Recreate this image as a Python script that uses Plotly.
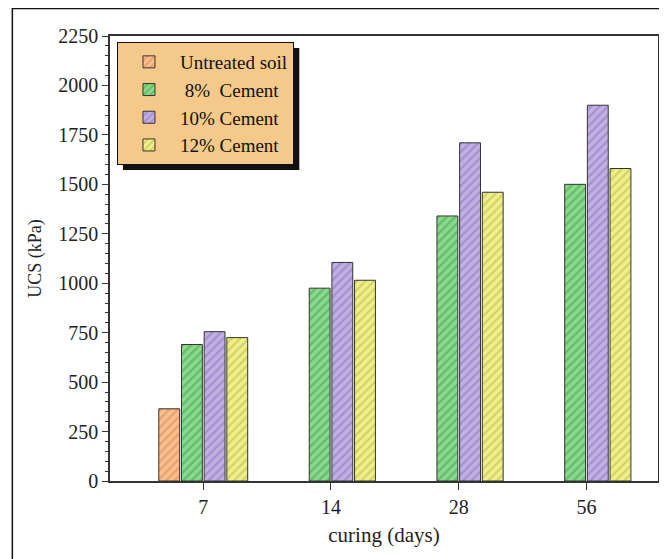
import plotly.graph_objects as go

categories = ["7", "14", "28", "56"]
untreated_x = ["7"]
untreated = [365]
cement8 = [690, 975, 1340, 1500]
cement10 = [755, 1105, 1710, 1900]
cement12 = [725, 1015, 1460, 1580]
series_names = ["Untreated soil", " 8%  Cement", "10% Cement", "12% Cement"]
y_ticks = [0, 250, 500, 750, 1000, 1250, 1500, 1750, 2000, 2250]

bg_cols = ["#F8C08E", "#8BD98B", "#C2B0E4", "#F0F08A"]
fg_cols = ["#D9864E", "#3E9E52", "#8A72BC", "#B8B840"]

FONT = "Liberation Serif"

fig = go.Figure()
data = [(untreated_x, untreated), (categories, cement8), (categories, cement10), (categories, cement12)]
for (xs, ys), name, bg, fg in zip(data, series_names, bg_cols, fg_cols):
    fig.add_trace(go.Bar(
        x=xs, y=ys, name=name,
        marker=dict(color=bg, line=dict(color="#333333", width=1),
                    pattern=dict(shape="/", fgcolor=fg, bgcolor=bg, size=6, solidity=0.4)),
    ))

# page body has an 8px margin: figure pixel = screen pixel - 8
OFF = 8
W, H = 667 - OFF, 559 - OFF
L, R, T, B = 110 - OFF, 7, 36 - OFF, 78
pw, ph = W - L - R, H - T - B

def px(x):  # screen x -> paper
    return (x - OFF - L) / pw

def py(y):  # screen y -> paper
    return (H - B - (y - OFF)) / ph

fig.update_layout(
    width=W, height=H,
    margin=dict(l=L, r=R, t=T, b=B),
    paper_bgcolor="white", plot_bgcolor="white",
    barmode="group", bargap=0.29, bargroupgap=0.08,
    font=dict(family=FONT, size=19, color="#222"),
    showlegend=True,
    legend=dict(x=px(117), y=py(42), xanchor="left", yanchor="top",
                bgcolor="#F5C98A", bordercolor="#111", borderwidth=1,
                font=dict(family=FONT, size=19, color="#111"),
                itemwidth=52, tracegroupgap=0, traceorder="normal"),
    xaxis=dict(type="category", categoryorder="array", categoryarray=categories,
               range=[-0.73, 3.56], showline=True, linecolor="#333", linewidth=1.5,
               mirror=True, ticks="outside", ticklen=7, tickcolor="#333",
               tickfont=dict(size=20), showgrid=False,
               title=dict(text="curing (days)", font=dict(size=21), standoff=11)),
    yaxis=dict(range=[0, 2250], tickvals=y_ticks, showline=True, linecolor="#333",
               linewidth=1.5, mirror=True, ticks="outside", ticklen=6, tickcolor="#333",
               tickfont=dict(size=20), showgrid=False, zeroline=False,
               minor=dict(dtick=50, ticks="outside", ticklen=3, tickcolor="#333"),
               title=dict(text="UCS (kPa)", font=dict(size=18), standoff=12)),
    shapes=[
        dict(type="rect", xref="paper", yref="paper",
             x0=px(12), x1=px(666), y0=py(600), y1=py(8.5),
             line=dict(color="#111", width=1.5), fillcolor="rgba(0,0,0,0)", layer="below"),
        dict(type="rect", xref="paper", yref="paper",
             x0=px(123), x1=px(300), y0=py(170), y1=py(48),
             line=dict(width=0), fillcolor="#111", layer="above"),
    ],
)

fig.write_html("out.html")
